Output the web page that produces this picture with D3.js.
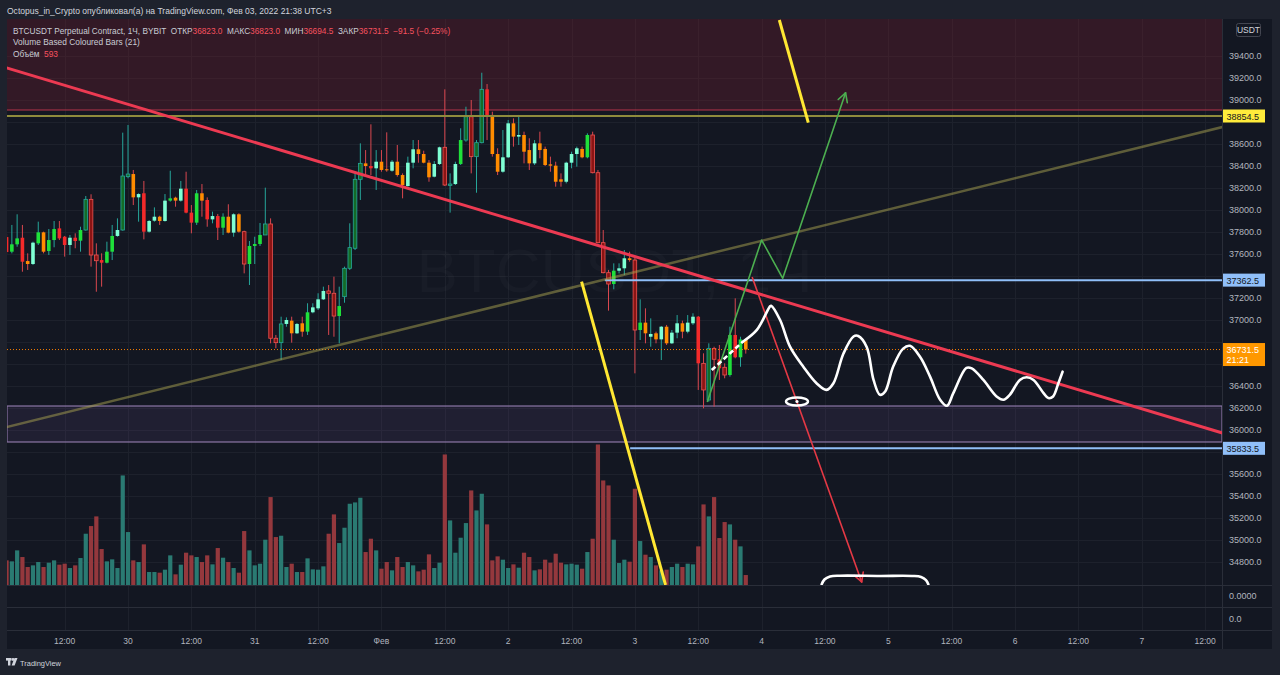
<!DOCTYPE html>
<html>
<head>
<meta charset="utf-8">
<script src="https://cdn.jsdelivr.net/npm/d3@7"></script>
<style>
body { margin: 0; background: #1e222d; overflow: hidden; }
svg { display: block; font-family: "Liberation Sans", Arial, sans-serif; }
text { white-space: pre; }
</style>
</head>
<body>
<div id="chart"></div>
<script>
const width = 1280, height = 675;

// hours counted from 29 Jan 2022 00:00 (UTC+3); one 1H candle per hour
const firstHour = 1;
const opens = [37754,37621,37688,37748,37536,37509,37697,37797,37627,37727,
  37833,37757,37682,37748,37721,37818,38097,37591,37545,37521,
  37621,37764,37818,38303,38327,38115,38152,37803,37903,37939,
  37900,38085,38112,38085,38194,37976,37885,38152,38091,37915,
  37945,37839,37939,37794,37961,37803,37509,37673,37691,37773,
  37873,36834,36794,36964,36994,36879,36970,36894,37070,37106,
  37188,37264,37243,37036,37212,37470,37652,38279,38424,38400,
  38379,38439,38370,38357,38439,38318,38218,38430,38552,38509,
  38430,38303,38418,38570,38224,38236,38418,38636,38848,38485,
  38612,39097,38864,38509,38348,38479,38788,38667,38682,38545,
  38424,38606,38555,38415,38403,38279,38257,38430,38509,38555,
  38479,38682,38339,37703,37430,37327,37448,37470,37561,37545,
  36909,36976,36848,36879,36824,36939,36788,36885,36970,36894,
  36970,37030,36606,36273,36742,36643,36570,36500,36864,36661,
  36823];
const highs = [37782,37864,37961,37864,37606,37712,37894,37803,37827,37900,
  37900,37764,37773,37788,37848,38127,38143,37697,37606,37712,
  37864,37924,38703,38773,38364,38152,38264,37909,38024,37948,
  38145,38357,38121,38264,38348,38045,38182,38236,38115,37985,
  37964,37970,38052,37970,37970,37812,37718,37757,37882,38203,
  37924,36864,37030,37024,37030,36973,37030,37152,37152,37243,
  37303,37318,37394,37303,37485,37879,38333,38606,38545,38779,
  38545,38545,38706,38454,38591,38333,38485,38636,38636,38539,
  38454,38445,38576,39097,38333,38439,38743,38939,39000,38636,
  39248,39145,38894,38561,38727,38818,38833,38864,38712,38652,
  38636,38712,38576,38485,38439,38333,38439,38530,38576,38576,
  38697,38712,38364,37818,37455,37515,37515,37636,37621,37575,
  37188,37106,37015,36894,36945,36955,36909,37045,36994,37045,
  37061,37036,36697,36788,36757,36773,36606,36939,37197,36848,
  36823];
const lows = [37600,37606,37666,37439,37455,37500,37682,37606,37591,37661,
  37727,37576,37591,37652,37621,37812,37485,37257,37303,37515,
  37545,37757,37812,38288,38045,37894,37733,37794,37894,37864,
  37894,38076,38030,38076,37970,37788,37864,37939,37848,37879,
  37727,37773,37788,37757,37794,37424,37318,37509,37673,37773,
  36788,36743,36636,36939,36794,36873,36848,36864,37061,37091,
  37182,36864,36848,36788,37157,37455,37636,38091,38318,38318,
  38182,38348,38348,38348,38303,38106,38212,38379,38430,38424,
  38257,38297,38409,38218,37976,38227,38409,38621,38333,38157,
  38606,38636,38485,38318,38339,38473,38576,38591,38424,38364,
  38409,38470,38400,38348,38212,38212,38242,38379,38394,38470,
  38470,38333,37697,37424,37085,37279,37424,37409,37530,36515,
  36818,36788,36757,36788,36636,36773,36782,36834,36834,36879,
  36955,36364,36197,36258,36212,36455,36470,36485,36652,36575,
  36694.5];
const closes = [37618,37688,37742,37530,37509,37703,37797,37621,37727,37827,
  37742,37682,37748,37718,37818,38097,37591,37539,37521,37621,
  37764,37818,38309,38327,38115,38145,37803,37900,37939,37900,
  38085,38106,38085,38194,37976,37885,38152,38085,37915,37945,
  37839,37939,37794,37961,37803,37509,37673,37691,37773,37873,
  36834,36794,36964,37000,36879,36964,36894,37070,37115,37188,
  37264,37243,37036,37127,37470,37658,38279,38424,38400,38379,
  38439,38364,38361,38439,38318,38227,38430,38552,38509,38430,
  38297,38418,38570,38227,38236,38418,38636,38848,38485,38612,
  39097,38864,38509,38348,38479,38788,38667,38682,38530,38424,
  38606,38545,38409,38403,38257,38257,38430,38509,38561,38479,
  38682,38339,37703,37430,37327,37448,37470,37561,37545,36909,
  36976,36879,36873,36824,36939,36788,36885,36970,36894,36976,
  37030,36606,36364,36742,36643,36561,36500,36864,36661,36823,
  36731.5];
const volumes = [1386,1332,1926,1566,1026,1116,1296,1026,1260,1386,
  1152,1206,972,1116,1512,2826,3240,3762,1998,1332,
  1440,972,5976,2916,1386,1296,2250,756,756,720,
  882,1656,630,1152,1800,1656,1566,1296,1656,1170,
  2052,1530,1296,972,720,2970,1926,1116,1206,2502,
  4806,2646,2718,1026,1206,756,756,1494,900,882,
  1062,2826,3870,2322,3150,4446,4518,4770,1836,2556,
  1926,936,1296,846,1566,1026,1296,1116,792,882,
  1710,972,1260,7110,3546,1800,2610,3402,5166,4086,
  4986,3330,1386,1602,1422,972,1170,990,1800,1566,
  846,900,1422,1260,1746,1260,1170,1206,1152,936,
  1836,2556,7650,5706,5436,2502,1242,1422,1314,5256,
  2430,1692,1566,1116,846,882,1026,1206,1026,1206,
  1170,2142,4410,3762,4806,2592,3456,3330,2502,2142,
  593];

const priceTicks = d3.range(34800, 39401, 200);
const timeTicks = d3.range(12, 229, 12);
const timeLabels = ["12:00","30","12:00","31","12:00","Фев","12:00","2","12:00","3",
  "12:00","4","12:00","5","12:00","6","12:00","7","12:00"];

// header / legend
const publishLine = "Octopus_in_Crypto опубликовал(а) на TradingView.com, Фев 03, 2022 21:38 UTC+3";
const symbolName = "BTCUSDT Perpetual Contract, 1Ч, BYBIT";
const ohlcNames = ["ОТКР", "МАКС", "МИН", "ЗАКР"];
const ohlcValues = [36823.0, 36823.0, 36694.5, 36731.5];
const change = -91.5, changePct = -0.25;
const indicatorName = "Volume Based Coloured Bars (21)";
const lastVolume = 593;
const lastPrice = 36731.5, countdown = "21:21";

// drawings: [hour, price]
const resistZone = [38909, 39800];
const supportZone = [35891, 36218];
const yellowLevel = 38854.5;
const blueLevels = [[114.3, 37362.5], [119.1, 35833.5]];
const trendDown = [[0, 39307], [232, 35962]];
const trendUp = [[0, 36014], [232, 38763]];
const yellowStrokes = [[[147.35, 39727], [152.84, 38794]], [[109.9, 37348], [125.8, 34591]]];
const greenPath = [[133.7, 36255], [144.0, 37727], [148.0, 37379], [159.9, 39066]];
const redArrow = [[142.2, 37391], [162.95, 34618]];
const waveDashed = [[134.55, 36545], [140.5, 36805]];
const wave = [[140.5,36805],[143.1,36910],[145.6,37125],[145.8,37130],[147.5,37000],[149.4,36755],
  [151.9,36575],[154.4,36425],[156.3,36365],[157.6,36425],[159.5,36695],[161.4,36850],[162.3,36855],
  [163.9,36755],[165.2,36455],[166.4,36320],[167.4,36350],[168.9,36575],[170.8,36740],[172.1,36765],
  [174.0,36665],[175.9,36485],[177.8,36275],[179.1,36220],[180.3,36335],[182.8,36565],[183.8,36560],
  [186.0,36455],[188.5,36305],[189.8,36275],[191.0,36320],[192.9,36455],[194.2,36480],[195.5,36455],
  [197.4,36335],[198.3,36290],[199.2,36305],[200.2,36425],[201.0,36530]];
const bracket = [[155.38,34597],[155.9,34641],[156.95,34668],[158.84,34675],[166.4,34673],
  [172.5,34673],[174.2,34664],[175.13,34636],[175.57,34597]];
const scribbleCenter = [150.7, 36259];

const svg = d3.select("#chart").append("svg").attr("width", width).attr("height", height);

const pane = {left: 7, right: 1222, top: 19, bottom: 585};
const x = d3.scaleLinear().domain([0, 100]).range([1.3, 529.3]);
const y = d3.scaleLinear().domain([34800, 39400]).range([562, 56]);
const yVol = d3.scaleLinear().domain([0, 8000]).range([586, 438]);

// shrink/grow a text's font so it spans the width seen in the picture
function fitWidth(sel, target) {
  const fs = +sel.attr("font-size");
  const len = sel.node().getComputedTextLength();
  if (len > 0) sel.attr("font-size", (fs * target / len).toFixed(2));
  return sel;
}

// backgrounds
svg.append("rect").attr("width", width).attr("height", height).attr("fill", "#1e222d");
svg.append("rect").attr("x", pane.left).attr("y", pane.top)
  .attr("width", 1272 - pane.left).attr("height", 649 - pane.top).attr("fill", "#131722");

svg.append("defs").append("clipPath").attr("id", "clip").append("rect")
  .attr("x", pane.left).attr("y", pane.top)
  .attr("width", pane.right - pane.left).attr("height", pane.bottom - pane.top);

// grid
const grid = svg.append("g").attr("stroke", "#1d212c").attr("stroke-width", 1);
grid.selectAll("line.h").data(priceTicks).enter().append("line")
  .attr("x1", pane.left).attr("x2", pane.right)
  .attr("y1", d => Math.round(y(d)) + 0.5).attr("y2", d => Math.round(y(d)) + 0.5);
grid.selectAll("line.v").data(timeTicks).enter().append("line")
  .attr("y1", pane.top).attr("y2", 630)
  .attr("x1", d => Math.round(x(d)) + 0.5).attr("x2", d => Math.round(x(d)) + 0.5);

// pane separators
const sep = svg.append("g").attr("stroke", "#2a2e39").attr("stroke-width", 1);
[585.5, 607.5, 630.5].forEach(v => sep.append("line").attr("x1", pane.left).attr("x2", 1272).attr("y1", v).attr("y2", v));
sep.append("line").attr("x1", pane.right + 0.5).attr("x2", pane.right + 0.5).attr("y1", pane.top).attr("y2", 649);

// watermark
svg.append("text").attr("x", (pane.left + pane.right) / 2).attr("y", 292)
  .attr("text-anchor", "middle").attr("font-size", 62).attr("fill", "rgba(255,255,255,0.025)")
  .text("BTCUSDT, 1Ч");
svg.append("text").attr("x", (pane.left + pane.right) / 2).attr("y", 345)
  .attr("text-anchor", "middle").attr("font-size", 17).attr("fill", "rgba(255,255,255,0.025)")
  .text("BTCUSDT Perpetual Contract");

const plot = svg.append("g").attr("clip-path", "url(#clip)");

// zones
plot.append("rect")
  .attr("x", pane.left).attr("width", pane.right - pane.left)
  .attr("y", y(resistZone[1])).attr("height", y(resistZone[0]) - y(resistZone[1]))
  .attr("fill", "rgba(120,32,48,0.32)");
plot.append("line").attr("x1", pane.left).attr("x2", pane.right)
  .attr("y1", y(resistZone[0])).attr("y2", y(resistZone[0]))
  .attr("stroke", "#b8354a").attr("stroke-width", 1.2);
plot.append("rect")
  .attr("x", pane.left).attr("width", pane.right - pane.left)
  .attr("y", y(supportZone[1])).attr("height", y(supportZone[0]) - y(supportZone[1]))
  .attr("fill", "rgba(126,87,160,0.13)").attr("stroke", "#8c76a6").attr("stroke-width", 1.2);

// candles
const candles = opens.map((o, i) => ({
  h: firstHour + i, o, hi: highs[i], lo: lows[i], c: closes[i], v: volumes[i]
}));
candles.forEach((d, i) => {
  d.up = d.c >= d.o;
  d.avg = d3.mean(volumes.slice(Math.max(0, i - 20), i + 1));
});
// Volume Based Coloured Bars (21)
function barColor(d) {
  const r = d.v / d.avg;
  if (r > 1.5) return d.up ? "#146b27" : "#8a1414";
  if (r < 0.82) return d.up ? "#7fffd4" : "#ff8c00";
  return d.up ? "#1fe03a" : "#f42a2a";
}

// volume
plot.selectAll("rect.vol").data(candles).enter().append("rect")
  .attr("x", d => x(d.h) - 2.1).attr("width", 4.2)
  .attr("y", d => yVol(d.v)).attr("height", d => yVol(0) - yVol(d.v))
  .attr("fill", d => d.up ? "#2a7a72" : "#94383d");

plot.selectAll("line.wick").data(candles).enter().append("line")
  .attr("x1", d => x(d.h)).attr("x2", d => x(d.h))
  .attr("y1", d => y(d.hi)).attr("y2", d => y(d.lo))
  .attr("stroke", d => d.up ? "#26a69a" : "#d9474f").attr("stroke-width", 1);
plot.selectAll("rect.body").data(candles).enter().append("rect")
  .attr("x", d => x(d.h) - 1.8).attr("width", 3.6)
  .attr("y", d => y(Math.max(d.o, d.c)))
  .attr("height", d => Math.max(1, Math.abs(y(d.o) - y(d.c))))
  .attr("fill", barColor)
  .attr("stroke", d => d.v / d.avg > 1.5 ? (d.up ? "#26a69a" : "#ef5350") : "none")
  .attr("stroke-width", 0.8);

// last price dotted line
plot.append("line").attr("x1", pane.left).attr("x2", pane.right)
  .attr("y1", y(lastPrice)).attr("y2", y(lastPrice))
  .attr("stroke", "#f57c00").attr("stroke-width", 1).attr("stroke-dasharray", "1,2");

// horizontal levels
plot.append("line").attr("x1", pane.left).attr("x2", pane.right)
  .attr("y1", y(yellowLevel)).attr("y2", y(yellowLevel))
  .attr("stroke", "#8f8b3c").attr("stroke-width", 2);
plot.selectAll("line.blue").data(blueLevels).enter().append("line")
  .attr("x1", d => x(d[0])).attr("x2", pane.right)
  .attr("y1", d => y(d[1])).attr("y2", d => y(d[1]))
  .attr("stroke", "#90bff9").attr("stroke-width", 2);

const line = d3.line().x(d => x(d[0])).y(d => y(d[1]));

// trend lines
plot.append("path").attr("d", line(trendUp)).attr("fill", "none")
  .attr("stroke", "rgba(170,164,80,0.5)").attr("stroke-width", 2.5);
plot.append("path").attr("d", line(trendDown)).attr("fill", "none")
  .attr("stroke", "#ec3a52").attr("stroke-width", 3);
yellowStrokes.forEach(s => plot.append("path").attr("d", line(s)).attr("fill", "none")
  .attr("stroke", "#ffe733").attr("stroke-width", 3));

function arrowHead(g, pts, color, w) {
  const a = pts[pts.length - 2], b = pts[pts.length - 1];
  const x1 = x(a[0]), y1 = y(a[1]), x2 = x(b[0]), y2 = y(b[1]);
  const ang = Math.atan2(y2 - y1, x2 - x1);
  [-0.5, 0.5].forEach(da => {
    g.append("line").attr("x1", x2).attr("y1", y2)
      .attr("x2", x2 - 10 * Math.cos(ang + da)).attr("y2", y2 - 10 * Math.sin(ang + da))
      .attr("stroke", color).attr("stroke-width", w).attr("stroke-linecap", "round");
  });
}

// arrows
plot.append("path").attr("d", line(greenPath)).attr("fill", "none")
  .attr("stroke", "#4caf50").attr("stroke-width", 1.6).attr("stroke-linejoin", "round");
arrowHead(plot, greenPath, "#4caf50", 1.6);
plot.append("path").attr("d", line(redArrow)).attr("fill", "none")
  .attr("stroke", "#e53945").attr("stroke-width", 1.6);
arrowHead(plot, redArrow, "#e53945", 1.6);

// freehand white drawings
const smooth = d3.line().x(d => x(d[0])).y(d => y(d[1])).curve(d3.curveCatmullRom.alpha(0.5));
plot.append("path").attr("d", line(waveDashed)).attr("fill", "none")
  .attr("stroke", "#ffffff").attr("stroke-width", 2.6).attr("stroke-dasharray", "5,3");
plot.append("path").attr("d", smooth(wave)).attr("fill", "none")
  .attr("stroke", "#ffffff").attr("stroke-width", 2.6).attr("stroke-linecap", "round").attr("stroke-linejoin", "round");
plot.append("path").attr("d", smooth(bracket)).attr("fill", "none")
  .attr("stroke", "#ffffff").attr("stroke-width", 2.6).attr("stroke-linecap", "round");
plot.append("ellipse").attr("cx", x(scribbleCenter[0])).attr("cy", y(scribbleCenter[1]))
  .attr("rx", 11).attr("ry", 4).attr("fill", "none").attr("stroke", "#ffffff").attr("stroke-width", 2.4);
plot.append("circle").attr("cx", x(scribbleCenter[0])).attr("cy", y(scribbleCenter[1]))
  .attr("r", 1.6).attr("fill", "#ffffff");

// price axis; ticks hidden under the coloured labels are left out
const axisText = "#b2b5be";
const priceLabels = [
  {price: yellowLevel, bg: "#ffeb3b", fg: "#131722"},
  {price: blueLevels[0][1], bg: "#90bff9", fg: "#131722"},
  {price: blueLevels[1][1], bg: "#90bff9", fg: "#131722"},
  {price: lastPrice, bg: "#ff9800", fg: "#ffffff", extra: countdown}
];
priceLabels.forEach(d => { d.top = y(d.price) - 6.5; d.h = d.extra ? 23 : 13; });
const covered = p => priceLabels.some(l => y(p) + 3 > l.top && y(p) - 4 < l.top + l.h);

svg.append("g").selectAll("text").data(priceTicks.filter(p => !covered(p))).enter().append("text")
  .attr("x", 1229).attr("y", d => y(d) + 3.2)
  .attr("font-size", 9).attr("fill", axisText)
  .text(d => d3.format(".1f")(d));
[["0.0000", 599], ["0.0", 622]].forEach(([t, ty]) =>
  svg.append("text").attr("x", 1229).attr("y", ty).attr("font-size", 9).attr("fill", axisText).text(t));

// USDT box
svg.append("rect").attr("x", 1236.5).attr("y", 23.5).attr("width", 24).attr("height", 13).attr("rx", 2)
  .attr("fill", "#131722").attr("stroke", "#434651");
svg.append("text").attr("x", 1248.5).attr("y", 33).attr("text-anchor", "middle")
  .attr("font-size", 8.5).attr("fill", "#d1d4dc").text("USDT");

priceLabels.forEach(d => {
  svg.append("rect").attr("x", pane.right + 1).attr("y", d.top).attr("width", 42).attr("height", d.h)
    .attr("fill", d.bg);
  svg.append("text").attr("x", pane.right + 4.5).attr("y", d.top + 10).attr("font-size", 9)
    .attr("fill", d.fg).text(d3.format(".1f")(d.price));
  if (d.extra) svg.append("text").attr("x", pane.right + 4.5).attr("y", d.top + 20).attr("font-size", 9)
    .attr("fill", d.fg).text(d.extra);
});

// time axis
svg.append("g").selectAll("text").data(timeTicks).enter().append("text")
  .attr("x", d => x(d)).attr("y", 643.5).attr("text-anchor", "middle")
  .attr("font-size", 8.5).attr("fill", axisText)
  .text((d, i) => timeLabels[i]);

// header
fitWidth(svg.append("text").attr("x", 7).attr("y", 13.5).attr("font-size", 9.5).attr("fill", "#d1d4dc")
  .text(publishLine), 325);

const legendGrey = "#c9ccd4", legendRed = "#f7525f";
const l1 = svg.append("text").attr("x", 13).attr("y", 33.5).attr("font-size", 9.5).attr("fill", legendGrey);
l1.append("tspan").text(symbolName + "  ");
ohlcNames.forEach((n, i) => {
  l1.append("tspan").attr("fill", legendGrey).text(n);
  l1.append("tspan").attr("fill", legendRed).text(d3.format(".1f")(ohlcValues[i]) + "  ");
});
l1.append("tspan").attr("fill", legendRed)
  .text(`−${Math.abs(change).toFixed(1)} (−${Math.abs(changePct).toFixed(2)}%)`);
fitWidth(l1, 438);
fitWidth(svg.append("text").attr("x", 13).attr("y", 45).attr("font-size", 9.5).attr("fill", legendGrey)
  .text(indicatorName), 127);
const l3 = svg.append("text").attr("x", 13).attr("y", 56.5).attr("font-size", 9.5).attr("fill", legendGrey);
l3.append("tspan").text("Объём  ");
l3.append("tspan").attr("fill", legendRed).text(lastVolume);
fitWidth(l3, 45);

// footer logo
const logo = svg.append("g").attr("fill", "#d1d4dc");
logo.append("rect").attr("x", 6).attr("y", 658).attr("width", 5.5).attr("height", 2.6);
logo.append("rect").attr("x", 8).attr("y", 658).attr("width", 2.4).attr("height", 7.5);
logo.append("circle").attr("cx", 13).attr("cy", 659.5).attr("r", 1.4);
logo.append("path").attr("d", "M14.5,658 L17.5,658 L14.6,665.5 L11.6,665.5 Z");
fitWidth(svg.append("text").attr("x", 20).attr("y", 665.5).attr("font-size", 10).attr("fill", "#d1d4dc")
  .text("TradingView"), 41);
</script>
</body>
</html>
